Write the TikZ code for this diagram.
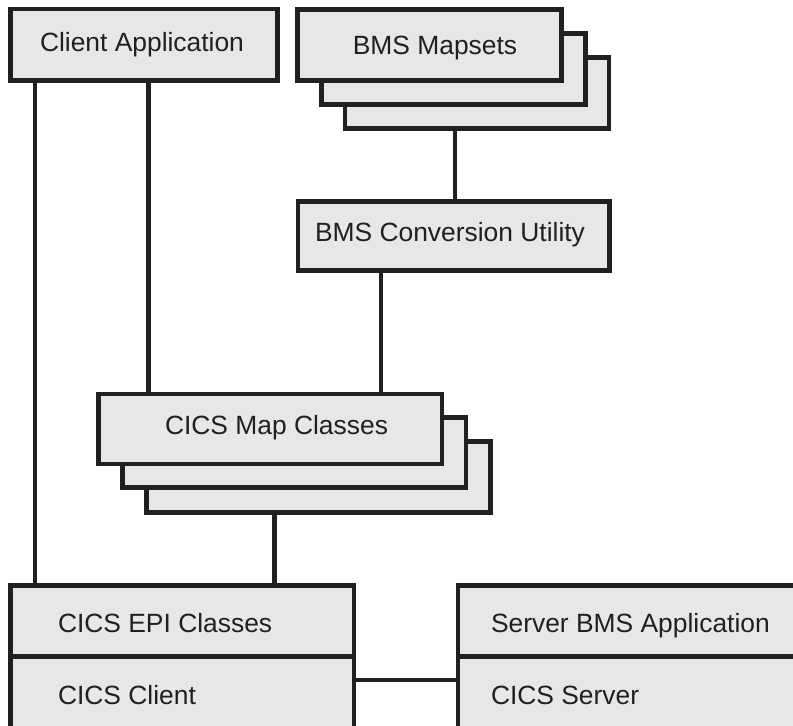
\documentclass[tikz,border=0pt]{standalone}
\usepackage{fontspec}
\setmainfont{Liberation Sans}
\definecolor{ink}{HTML}{231F20}
\definecolor{boxfill}{HTML}{E6E7E8}
\begin{document}
\begin{tikzpicture}[x=0.5pt,y=-0.5pt,
  box/.style={draw=ink, fill=boxfill, line width=2.4pt, inner sep=0pt, outer sep=0pt},
  conn/.style={draw=ink, line width=2.2pt},
  txt/.style={text=ink, font=\fontsize{13.2}{15}\selectfont, inner sep=0pt, outer sep=0pt}]
\useasboundingbox (0,0) rectangle (793,726);
\clip (0,0) rectangle (793,726);
% column coordinates for connectors
\coordinate (xa) at (35,0);
\coordinate (xb) at (148.5,0);
\coordinate (xc) at (455,0);
\coordinate (xd) at (381,0);
\coordinate (xe) at (274.5,0);
\coordinate (yl) at (0,680);
% boxes
\node[box, minimum width=133.5pt, minimum height=35.75pt] (ca) at (144,44.75) {};
\node[box, minimum width=132pt, minimum height=35.5pt] (bms3) at (477,93) {};
\node[box, minimum width=132pt, minimum height=35.5pt] (bms2) at (453.25,69) {};
\node[box, minimum width=132pt, minimum height=35.5pt] (bms1) at (429.5,45) {};
\node[box, minimum width=155.75pt, minimum height=34.5pt] (conv) at (453.75,236) {};
\node[box, minimum width=171.75pt, minimum height=35.25pt] (map3) at (318.5,477) {};
\node[box, minimum width=171.75pt, minimum height=35pt] (map2) at (294.25,452.75) {};
\node[box, minimum width=171.75pt, minimum height=35pt] (map1) at (270.25,429) {};
\node[box, minimum width=171.75pt, minimum height=35.5pt] (epi) at (182.25,621) {};
\node[box, minimum width=171.75pt, minimum height=40pt] (cli) at (182.25,696.5) {};
\node[box, minimum width=180pt, minimum height=35.5pt] (sba) at (638,621) {};
\node[box, minimum width=180pt, minimum height=40pt] (srv) at (638,696.5) {};
% connectors
\draw[conn] (ca.south -| xa) -- (epi.north -| xa);
\draw[conn] (ca.south -| xb) -- (map1.north -| xb);
\draw[conn] (bms3.south -| xc) -- (conv.north -| xc);
\draw[conn] (conv.south -| xd) -- (map1.north -| xd);
\draw[conn] (map3.south -| xe) -- (epi.north -| xe);
\draw[conn] (cli.east |- yl) -- (srv.west |- yl);
% texts
\node[txt, anchor=base] (t-ca) at (142,52) {Client Application};
\node[txt, anchor=base] (t-bms) at (435,55) {BMS Mapsets};
\node[txt, anchor=base] (t-conv) at (450,242) {BMS Conversion Utility};
\node[txt, anchor=base] (t-map) at (276.5,435) {CICS Map Classes};
\node[txt, anchor=base west] (t-epi) at (58,633) {CICS EPI Classes};
\node[txt, anchor=base west] (t-cli) at (58,705) {CICS Client};
\node[txt, anchor=base west] (t-sba) at (491,633) {Server BMS Application};
\node[txt, anchor=base west] (t-srv) at (491,705) {CICS Server};
\end{tikzpicture}
\end{document}
